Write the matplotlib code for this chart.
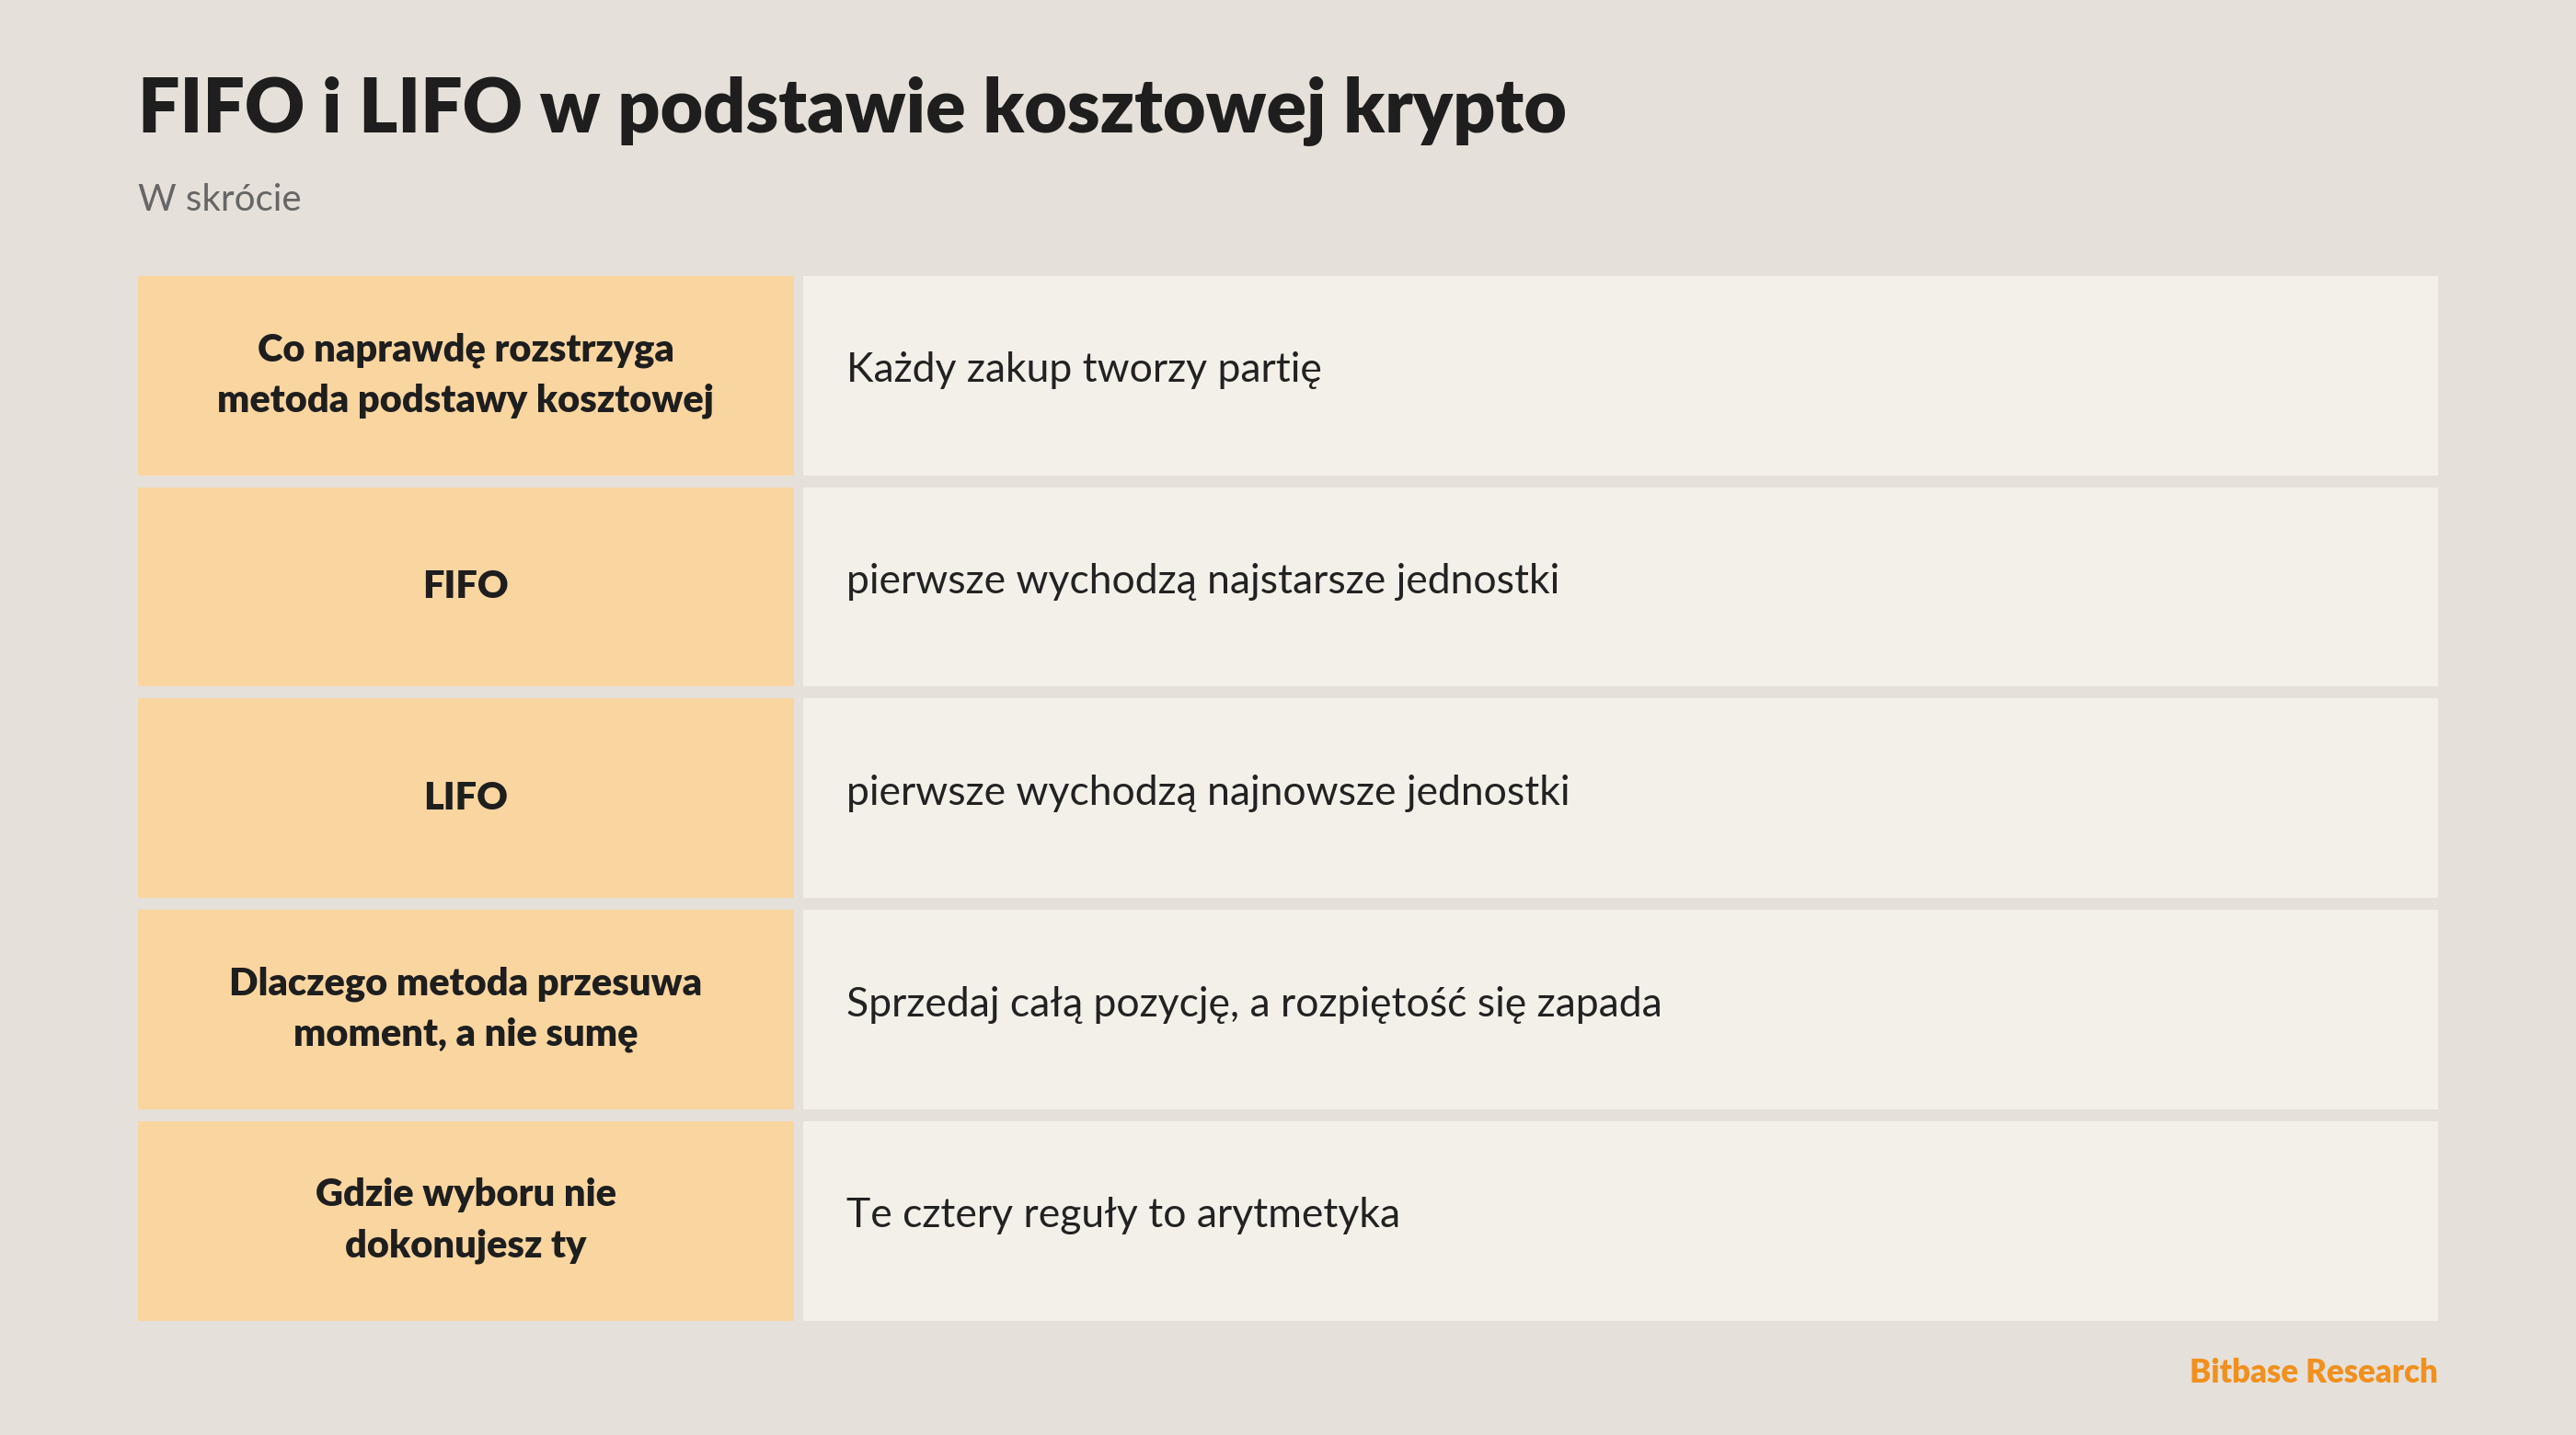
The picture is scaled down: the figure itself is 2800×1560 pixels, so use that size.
import matplotlib
matplotlib.use("Agg")
import matplotlib.pyplot as plt
from matplotlib.patches import Rectangle

title = "FIFO i LIFO w podstawie kosztowej krypto"
subtitle = "W skrócie"
row_labels = ["Co naprawdę rozstrzyga\nmetoda podstawy kosztowej", "FIFO", "LIFO",
              "Dlaczego metoda przesuwa\nmoment, a nie sumę", "Gdzie wyboru nie\ndokonujesz ty"]
row_texts = ["Każdy zakup tworzy partię", "pierwsze wychodzą najstarsze jednostki",
             "pierwsze wychodzą najnowsze jednostki",
             "Sprzedaj całą pozycję, a rozpiętość się zapada", "Te cztery reguły to arytmetyka"]
footer = "Bitbase Research"

plt.rcParams['font.family'] = ['Lato', 'DejaVu Sans']
BG = "#E5E0DA"
fig = plt.figure(figsize=(28, 15.6), dpi=100, facecolor=BG)
ax = fig.add_axes([0, 0, 1, 1])
ax.set_xlim(0, 1568); ax.set_ylim(874, 0); ax.axis('off')
ax.set_facecolor(BG)

ax.text(84, 68, title, fontsize=58, fontweight='heavy', color="#1E1E1E", va='center', ha='left')
ax.text(84, 122, subtitle, fontsize=29, color="#666666", va='center', ha='left')

top, h, gap = 168, 121.5, 7.2
for i, (lab, txt) in enumerate(zip(row_labels, row_texts)):
    y0 = top + i * (h + gap)
    ax.add_patch(Rectangle((84, y0), 399, h, facecolor="#F9D5A0", edgecolor='none'))
    ax.add_patch(Rectangle((489, y0), 995, h, facecolor="#F3F0EA", edgecolor='none'))
    ax.text(283.5, y0 + h / 2, lab, fontsize=30, fontweight='heavy', color="#1E1E1E",
            ha='center', va='center', linespacing=1.55)
    ax.text(515, y0 + h / 2 - 3, txt, fontsize=32, color="#222222", ha='left', va='center')

ax.text(1484, 836, footer, fontsize=25, fontweight='heavy', color="#F0901E", ha='right', va='center')
fig.savefig("out.png", dpi=100, facecolor=BG)
